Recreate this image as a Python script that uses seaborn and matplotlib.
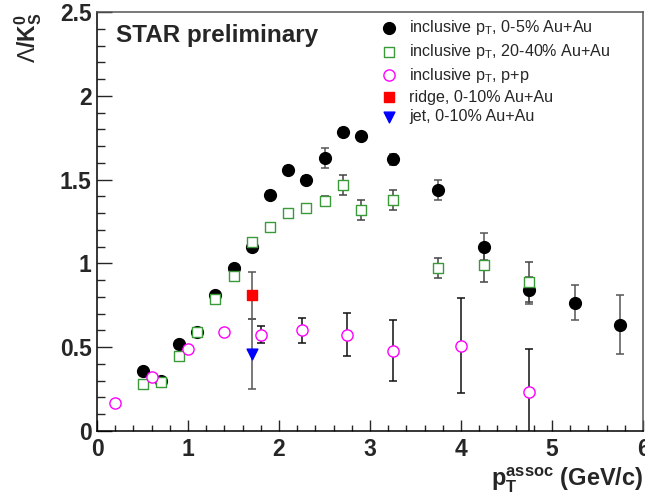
import matplotlib

matplotlib.use("Agg")

import matplotlib.pyplot as plt
import pandas as pd
import seaborn as sns
from matplotlib.ticker import MultipleLocator

# Lambda/K0s ratio vs associated pT
pt_0_5 = [0.5, 0.7, 0.9, 1.1, 1.3, 1.5, 1.7, 1.9, 2.1, 2.3, 2.5, 2.7, 2.9, 3.25, 3.75, 4.25, 4.75, 5.25, 5.75]
ratio_0_5 = [0.36, 0.30, 0.52, 0.59, 0.81, 0.97, 1.10, 1.41, 1.56, 1.50, 1.63, 1.785, 1.76, 1.62, 1.44, 1.10, 0.84, 0.765, 0.635]
err_0_5 = [0.01, 0.01, 0.01, 0.01, 0.01, 0.01, 0.02, 0.02, 0.02, 0.02, 0.06, 0.02, 0.02, 0.03, 0.06, 0.08, 0.08, 0.105, 0.175]

pt_20_40 = [0.5, 0.7, 0.9, 1.1, 1.3, 1.5, 1.7, 1.9, 2.1, 2.3, 2.5, 2.7, 2.9, 3.25, 3.75, 4.25, 4.75]
ratio_20_40 = [0.28, 0.29, 0.45, 0.59, 0.79, 0.925, 1.13, 1.22, 1.30, 1.33, 1.37, 1.47, 1.32, 1.38, 0.97, 0.99, 0.89]
err_20_40 = [0.01, 0.01, 0.01, 0.01, 0.01, 0.01, 0.02, 0.02, 0.02, 0.02, 0.03, 0.06, 0.06, 0.06, 0.06, 0.10, 0.12]

pt_pp = [0.2, 0.6, 1.0, 1.4, 1.8, 2.25, 2.75, 3.25, 4.0, 4.75]
ratio_pp = [0.17, 0.32, 0.49, 0.59, 0.575, 0.60, 0.575, 0.48, 0.51, 0.23]
err_pp = [0.01, 0.01, 0.01, 0.02, 0.05, 0.075, 0.13, 0.18, 0.285, 0.26]

pt_ridge = [1.7]
ratio_ridge = [0.81]
err_ridge = [0.14]

pt_jet = [1.7]
ratio_jet = [0.46]
err_jet = [0.21]

series = [
    # label, x, y, err, marker, face, edge, size, bar colour
    ("inclusive p$_\\mathregular{T}$, 0-5% Au+Au", pt_0_5, ratio_0_5, err_0_5, "o", "black", "black", 72, "#555555"),
    ("inclusive p$_\\mathregular{T}$, 20-40% Au+Au", pt_20_40, ratio_20_40, err_20_40, "s", "white", "#3a9a3a", 55, "#444444"),
    ("inclusive p$_\\mathregular{T}$, p+p", pt_pp, ratio_pp, err_pp, "o", "white", "#ff00ff", 65, "#111111"),
    ("ridge, 0-10% Au+Au", pt_ridge, ratio_ridge, err_ridge, "s", "#ff0000", "#ff0000", 60, "#555555"),
    ("jet, 0-10% Au+Au", pt_jet, ratio_jet, err_jet, "v", "#0000ff", "#0000ff", 60, "#555555"),
]

sns.set_style("ticks")
plt.rcParams["font.family"] = ["Liberation Sans", "DejaVu Sans"]
plt.rcParams["mathtext.fontset"] = "custom"
plt.rcParams["mathtext.rm"] = "Liberation Sans"
plt.rcParams["mathtext.bf"] = "Liberation Sans:bold"

W, H = 645, 497
fig = plt.figure(figsize=(W / 100, H / 100), dpi=100)
ax = fig.add_axes([97 / W, 1 - 431 / H, 546 / W, 419 / H])

for label, x, y, err, marker, face, edge, size, bar in series:
    ax.errorbar(x, y, yerr=err, fmt="none", ecolor=bar, elinewidth=1.1,
                capsize=3, capthick=1.1, zorder=2)
    df = pd.DataFrame({"pt": x, "ratio": y})
    sns.scatterplot(data=df, x="pt", y="ratio", ax=ax, marker=marker, s=size,
                    color=face, edgecolor=edge, linewidth=1.0, label=label, zorder=3)

ax.set_xlim(0, 6)
ax.set_ylim(0, 2.5)
ax.xaxis.set_major_locator(MultipleLocator(1))
ax.xaxis.set_minor_locator(MultipleLocator(0.2))
ax.yaxis.set_major_locator(MultipleLocator(0.5))
ax.yaxis.set_minor_locator(MultipleLocator(0.1))
ax.tick_params(axis="y", which="major", direction="in", length=11, width=1, pad=4)
ax.tick_params(axis="y", which="minor", direction="in", length=5.5, width=1)
ax.tick_params(axis="x", which="major", direction="in", length=8, width=1, pad=5)
ax.tick_params(axis="x", which="minor", direction="in", length=4.3, width=1)
for lab in ax.get_xticklabels() + ax.get_yticklabels():
    lab.set_fontsize(16.5)
    lab.set_fontweight("bold")
ax.yaxis.set_major_formatter(plt.FuncFormatter(lambda v, p: f"{v:g}"))

for side in ["left", "bottom"]:
    ax.spines[side].set_color("black")
    ax.spines[side].set_linewidth(1.1)
for side in ["top", "right"]:
    ax.spines[side].set_color("#555555")
    ax.spines[side].set_linewidth(1.1)

ax.set_xlabel("")
ax.set_ylabel("")
fig.text(643 / W, 1 - 486 / H, r"$\mathbf{p}_\mathbf{T}^\mathbf{assoc}$ (GeV/c)",
         ha="right", va="baseline", fontsize=17, fontweight="bold")
fig.text(44 / W, 1 - 12 / H, r"$\Lambda$/K$^\mathbf{0}_\mathbf{S}$", rotation=90,
         ha="right", va="top", fontsize=16.5, fontweight="bold")
ax.text(116 / W, 1 - 42 / H, "STAR preliminary", transform=fig.transFigure,
        ha="left", va="baseline", fontsize=17.5, fontweight="bold")

ax.legend(loc="upper left", bbox_to_anchor=(370 / W, 1 - 10 / H),
          bbox_transform=fig.transFigure, frameon=False, fontsize=11.6,
          handlelength=1.4, handletextpad=0.55, borderpad=0, labelspacing=0.3,
          scatterpoints=1, markerscale=1.0)

fig.savefig("out.png", dpi=100)
